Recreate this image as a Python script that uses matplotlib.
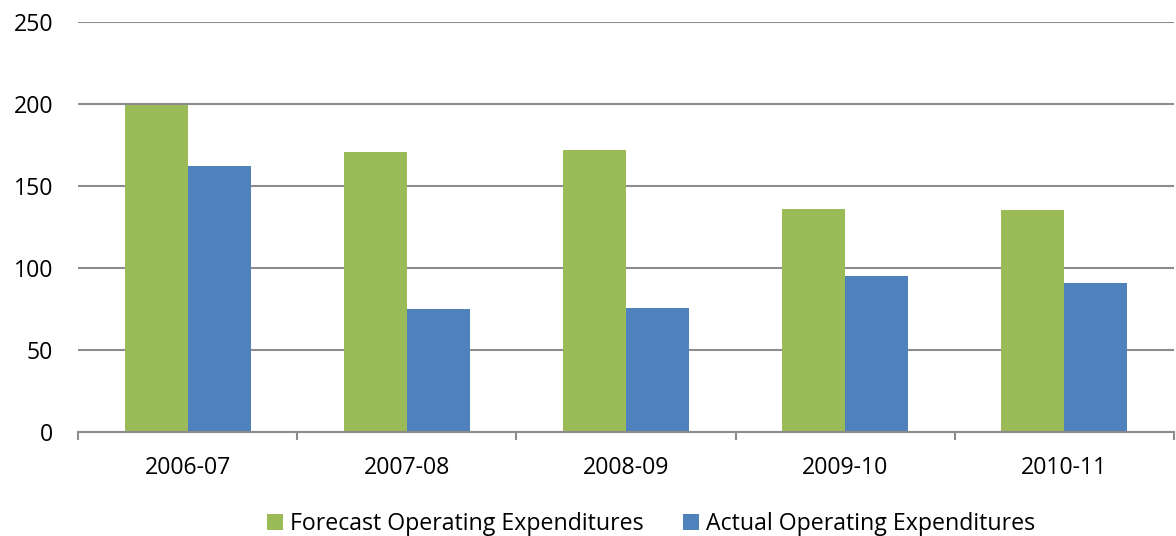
import matplotlib.pyplot as plt
import numpy as np
from matplotlib.ticker import FixedLocator, NullFormatter

years = ["2006-07", "2007-08", "2008-09", "2009-10", "2010-11"]
forecast = [199.4, 170.7, 172.1, 136.0, 135.4]
actual = [162.2, 75.0, 75.8, 95.1, 91.0]

plt.rcParams['font.family'] = ['Open Sans', 'DejaVu Sans']
fs = 16.7

fig = plt.figure(figsize=(11.76, 5.36), dpi=100)
ax = fig.add_axes([78/1176, 104/536, 1096/1176, 410/536])

x = np.arange(len(years))
w = 0.287
ax.bar(x - w/2, forecast, w, color='#9bbb59', label='Forecast Operating Expenditures')
ax.bar(x + w/2, actual, w, color='#4f81bd', label='Actual Operating Expenditures')

ax.set_xlim(-0.5, len(years) - 0.5)
ax.set_ylim(0, 250)
ax.set_yticks(np.arange(0, 251, 50))
ax.yaxis.grid(True, color='#8c8c8c', linewidth=1.5)
ax.set_axisbelow(True)

# category boundaries get the tick marks, centers get the labels
ax.xaxis.set_major_locator(FixedLocator(np.arange(-0.5, len(years), 1.0)))
ax.xaxis.set_major_formatter(NullFormatter())
ax.xaxis.set_minor_locator(FixedLocator(x))
ax.set_xticklabels(years, minor=True)
ax.tick_params(axis='x', which='major', length=6, width=1.5, color='#8c8c8c', direction='out')
ax.tick_params(axis='x', which='minor', length=0, pad=17, labelsize=fs)
ax.tick_params(axis='y', length=0, pad=18, labelsize=fs)

for s in ['top', 'right', 'left']:
    ax.spines[s].set_visible(False)
ax.spines['bottom'].set_color('#8c8c8c')
ax.spines['bottom'].set_linewidth(1.5)

fig.legend(loc='center', bbox_to_anchor=(0.554, 1 - 524/536), ncol=2, frameon=False,
           fontsize=fs, handlelength=0.69, handleheight=0.69, handletextpad=0.3,
           columnspacing=1.7, borderpad=0)

fig.savefig('out.png', dpi=100)
